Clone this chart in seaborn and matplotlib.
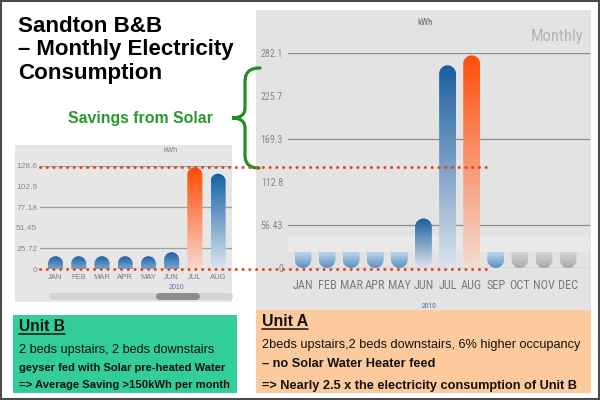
import numpy as np
import matplotlib
matplotlib.use("Agg")
import matplotlib.pyplot as plt
import seaborn as sns
from matplotlib import font_manager
from matplotlib.colors import LinearSegmentedColormap
from matplotlib.lines import Line2D
from matplotlib.patches import PathPatch, Rectangle
from matplotlib.path import Path
from matplotlib.transforms import IdentityTransform, blended_transform_factory

months = ["JAN", "FEB", "MAR", "APR", "MAY", "JUN", "JUL", "AUG", "SEP", "OCT", "NOV", "DEC"]

# Unit A (no solar), 2010 kWh; OCT-DEC only show the empty placeholder
unit_a_kwh = [21, 21, 21, 21, 21, 65, 266, 279, 21, 21, 21, 21]
unit_a_last_reading = "SEP"
unit_a_ticks = [0, 56.43, 112.8, 169.3, 225.7, 282.1]
unit_a_tick_labels = ["0", "56.43", "112.8", "169.3", "225.7", "282.1"]

# Unit B (solar pre-heated), 2010 kWh, part visible in the scrolled widget
unit_b_months = months[:8]
unit_b_kwh = [16, 16, 16, 16, 16, 21, 127, 119]
unit_b_ticks = [0, 25.72, 51.45, 77.18, 102.9, 128.6]
unit_b_tick_labels = ["0", "25.72", "51.45", "77.18", "102.9", "128.6"]

title_lines = ["Sandton B&B", "\u2013 Monthly Electricity", "Consumption"]
unit_b_lines = ["Unit B", "2 beds upstairs, 2 beds downstairs",
                "geyser fed with Solar pre-heated Water",
                "=> Average Saving >150kWh per month"]
unit_a_lines = ["Unit A", "2beds upstairs,2 beds downstairs, 6% higher occupancy",
                "\u2013 no Solar Water Heater feed",
                "=> Nearly 2.5 x the electricity consumption of Unit B"]

sns.set_theme(style="white")
fonts = font_manager.fontManager.ttflist
installed = {f.name for f in fonts}
SANS = "Liberation Sans" if "Liberation Sans" in installed else "DejaVu Sans"

# look for a narrow face for the widget labels
NARROW, STRETCH, narrow_found = SANS, "normal", False
for want in ["Liberation Sans Narrow", "Roboto Condensed", "DejaVu Sans Condensed",
             "Open Sans Condensed", "Noto Sans", "Roboto", "Open Sans"]:
    for f in fonts:
        st = f.stretch if isinstance(f.stretch, str) else ""
        if f.name == want and ("Narrow" in want or "Condensed" in want
                               or st in ("condensed", "semi-condensed", "extra-condensed")):
            NARROW = want
            STRETCH = "condensed" if st in ("condensed", "extra-condensed") else (st or "normal")
            narrow_found = True
            break
    if narrow_found:
        break
NSCALE = 1.0 if narrow_found else 0.82

plt.rcParams["font.family"] = [SANS, "DejaVu Sans"]

W, H = 600, 400
fig = plt.figure(figsize=(6, 4), dpi=100, facecolor="white")


def fx(x):
    return x / W


def fy(y):
    return 1 - y / H


def panel(x0, y0, x1, y1, color):
    fig.add_artist(Rectangle((fx(x0), fy(y1)), (x1 - x0) / W, (y1 - y0) / H,
                             transform=fig.transFigure, facecolor=color,
                             edgecolor="none", zorder=-1))


panel(256, 10, 591, 310, "#e3e3e3")
panel(15, 145, 232, 302, "#e6e6e6")
panel(13, 315, 237, 393, "#33cd9b")
panel(256, 310, 591, 393, "#fdca9d")

KAPPA = 0.5523


def bar_path(x0, w, h, rt, rb):
    x1 = x0 + w
    cx = x0 + w / 2
    rx = w / 2
    verts = [(x0, rb), (x0, h - rt),
             (x0, h - rt + KAPPA * rt), (cx - KAPPA * rx, h), (cx, h),
             (cx + KAPPA * rx, h), (x1, h - rt + KAPPA * rt), (x1, h - rt),
             (x1, rb),
             (x1, rb - KAPPA * rb), (cx + KAPPA * rx, 0), (cx, 0),
             (cx - KAPPA * rx, 0), (x0, rb - KAPPA * rb), (x0, rb),
             (x0, rb)]
    codes = ([Path.MOVETO, Path.LINETO] + [Path.CURVE4] * 6 + [Path.LINETO]
             + [Path.CURVE4] * 6 + [Path.CLOSEPOLY])
    return Path(verts, codes)


def gradient_bars(ax, styles):
    xlim, ylim = ax.get_xlim(), ax.get_ylim()
    bb = ax.get_window_extent()
    y_per_x = ((ylim[1] - ylim[0]) / bb.height) / ((xlim[1] - xlim[0]) / bb.width)
    ramp = np.linspace(0, 1, 256).reshape(-1, 1)
    for p, (shape, top, bottom) in zip(ax.patches, styles):
        x0, w, h = p.get_x(), p.get_width(), p.get_height()
        p.set_visible(False)
        ry = w / 2 * y_per_x
        if shape == "pill":
            rt = rb = min(ry, h / 2)
        elif shape == "dome":
            rt, rb = min(ry, h), 0
        else:
            rt, rb = 0, min(ry, h)
        clip = PathPatch(bar_path(x0, w, h, rt, rb), transform=ax.transData,
                         facecolor="none", edgecolor="none")
        ax.add_patch(clip)
        cmap = LinearSegmentedColormap.from_list("g", [bottom, top])
        im = ax.imshow(ramp, extent=[x0, x0 + w, 0, h], origin="lower", cmap=cmap,
                       aspect="auto", zorder=2, interpolation="bilinear")
        im.set_clip_path(clip)
    ax.set_xlim(xlim)
    ax.set_ylim(ylim)


def style_axes(ax, ticks, labels, ysize, ypad, xsize, xpad, family, stretch, grid_color):
    for s in ax.spines.values():
        s.set_visible(False)
    ax.patch.set_visible(False)
    ax.set_xlabel("")
    ax.set_ylabel("")
    ax.set_yticks(ticks)
    ax.set_yticklabels(labels, fontfamily=family, fontstretch=stretch,
                       fontsize=ysize, color="#8a8a8a")
    ax.tick_params(axis="y", length=0, pad=ypad)
    ax.tick_params(axis="x", length=0, pad=xpad)
    for lbl in ax.get_xticklabels():
        lbl.set_fontfamily(family)
        lbl.set_fontstretch(stretch)
        lbl.set_fontsize(xsize)
        lbl.set_color("#7c7c7c")
    for t in ticks[::-2] + [0]:
        ax.axhline(t, color=grid_color, lw=0.9, zorder=1)
    ax.grid(False)


# ---- Unit A chart ----
axA = fig.add_axes([fx(288), fy(268), (590 - 288) / W, (268 - 53) / H])
sns.barplot(x=months, y=unit_a_kwh, ax=axA, width=0.7, color="white", saturation=1)
axA.set_xlim(-0.62, 11.91)
axA.set_ylim(0, unit_a_ticks[-1])
style_axes(axA, unit_a_ticks, unit_a_tick_labels, 7.2 * NSCALE, 3.6, 8.8 * NSCALE, 8,
           NARROW, STRETCH, "#8a8a8a")
axA.axhspan(unit_a_kwh[0], 2 * unit_a_kwh[0], color="#e9e9e9", zorder=0.5, lw=0)

last = months.index(unit_a_last_reading)
peak_a = int(np.argmax(unit_a_kwh))
styles_a = []
for i, v in enumerate(unit_a_kwh):
    if i == peak_a:
        styles_a.append(("pill", "#ff4e0c", "#f3dcd2"))
    elif v < 30:
        if i > last:
            styles_a.append(("bowl", "#d8d8d8", "#a9a9a9"))
        else:
            styles_a.append(("bowl", "#c6d9eb", "#5a8fc3"))
    else:
        styles_a.append(("pill", "#1b5e9f", "#dce4ed"))

# ---- Unit B chart ----
axB = fig.add_axes([fx(40), fy(269), (232 - 40) / W, (269 - 166) / H])
sns.barplot(x=unit_b_months, y=unit_b_kwh, ax=axB, width=0.65, color="white", saturation=1)
axB.set_xlim(-0.67, 7.6)
axB.set_ylim(0, unit_b_ticks[-1])
style_axes(axB, unit_b_ticks, unit_b_tick_labels, 6, 2, 5.5, 3.6, SANS, "normal", "#a0a0a0")

peak_b = int(np.argmax(unit_b_kwh))
styles_b = []
for i, v in enumerate(unit_b_kwh):
    if i == peak_b:
        styles_b.append(("dome", "#ff4a05", "#f6dace"))
    elif v < 30:
        styles_b.append(("dome", "#1f62a6", "#7aa6d0"))
    else:
        styles_b.append(("dome", "#1560a8", "#dbe5ef"))

fig.canvas.draw()
gradient_bars(axA, styles_a)
gradient_bars(axB, styles_b)

# chart furniture
fig.text(fx(425), fy(25), "kWh", fontsize=6.5 * NSCALE, ha="center", va="baseline",
         family=NARROW, stretch=STRETCH, color="#666666")
fig.text(fx(583), fy(40.5), "Monthly", fontsize=12 * NSCALE, ha="right", va="baseline",
         family=NARROW, stretch=STRETCH, color="#b4b4b4")
fig.text(fx(429), fy(307.5), "2010", fontsize=5.5 * NSCALE, ha="center", va="baseline",
         family=NARROW, stretch=STRETCH, color="#3b6fb0")
fig.text(fx(171), fy(152.5), "kWh", fontsize=5, ha="center", va="baseline", color="#777777")
fig.text(fx(176), fy(289), "2010", fontsize=5, ha="center", va="baseline", color="#4a77b0")
fig.add_artist(Line2D([fx(52), fx(229)], [fy(295.5)] * 2, transform=fig.transFigure,
                      lw=5, color="#d3d3d3", solid_capstyle="round", zorder=-0.5))
fig.add_artist(Line2D([fx(159), fx(196)], [fy(295.5)] * 2, transform=fig.transFigure,
                      lw=5, color="#8c8c8c", solid_capstyle="round", zorder=-0.4))

# dotted reference lines at Unit B's peak and zero
blend = blended_transform_factory(fig.transFigure, axB.transData)
for level in [max(unit_b_kwh), 0]:
    fig.add_artist(Line2D([fx(40), fx(492)], [level, level], transform=blend,
                          color="#e5461b", lw=2.2, ls=(0, (0.01, 2.2)),
                          dash_capstyle="round", zorder=5, clip_on=False))

# curly brace
brace = [(260, 68), (250, 68), (245, 72), (245, 82), (245, 108),
         (245, 115), (240, 118), (232, 118), (240, 118), (245, 121), (245, 128),
         (245, 155), (245, 164), (250, 168), (259, 168)]
codes = [Path.MOVETO] + [Path.CURVE4] * 3 + [Path.LINETO] + [Path.CURVE4] * 6 \
    + [Path.LINETO] + [Path.CURVE4] * 3
fig.add_artist(PathPatch(Path([(fx(x), fy(y)) for x, y in brace], codes),
                         transform=fig.transFigure, facecolor="none",
                         edgecolor="#1f8f22", lw=2.3, capstyle="round", zorder=4))

# text blocks (baseline y in pixels, target width in pixels)
texts = []
for s, yb, wpx in zip(title_lines, [32, 55, 78.5], [144, 217, 145]):
    texts.append((fig.text(fx(18), fy(yb), s, fontsize=12.5, weight="bold",
                           va="baseline", color="black"), wpx))
texts.append((fig.text(fx(68), fy(123), "Savings from Solar", fontsize=9.5,
                       weight="bold", va="baseline", color="#2b9630"), 145))

b_specs = [(331, 46, "bold"), (352.5, 197, "normal"), (371, 206, "bold"), (388, 210, "bold")]
a_specs = [(326.5, 46, "bold"), (348, 319, "normal"), (367, 173, "bold"), (389, 316, "bold")]
under = []
for lines, specs, x in [(unit_b_lines, b_specs, 19), (unit_a_lines, a_specs, 262)]:
    for k, (s, (yb, wpx, wt)) in enumerate(zip(lines, specs)):
        t = fig.text(fx(x), fy(yb), s, fontsize=9, weight=wt, va="baseline",
                     color="#111111")
        texts.append((t, wpx))
        if k == 0:
            under.append((t, yb))

renderer = fig.canvas.get_renderer()
for t, wpx in texts:
    bb = t.get_window_extent(renderer)
    t.set_fontsize(t.get_fontsize() * wpx / bb.width)

for t, yb in under:
    bb = t.get_window_extent(renderer)
    yline = H - yb - 2.5
    fig.add_artist(Line2D([bb.x0, bb.x1], [yline, yline], transform=IdentityTransform(),
                          color="#111111", lw=1.1))

# outer frame
fig.add_artist(Rectangle((fx(1), fy(399)), 598 / W, 398 / H, transform=fig.transFigure,
                         facecolor="none", edgecolor="#4a4a4a", lw=1.5, zorder=6))

fig.savefig("out.png", dpi=100)
